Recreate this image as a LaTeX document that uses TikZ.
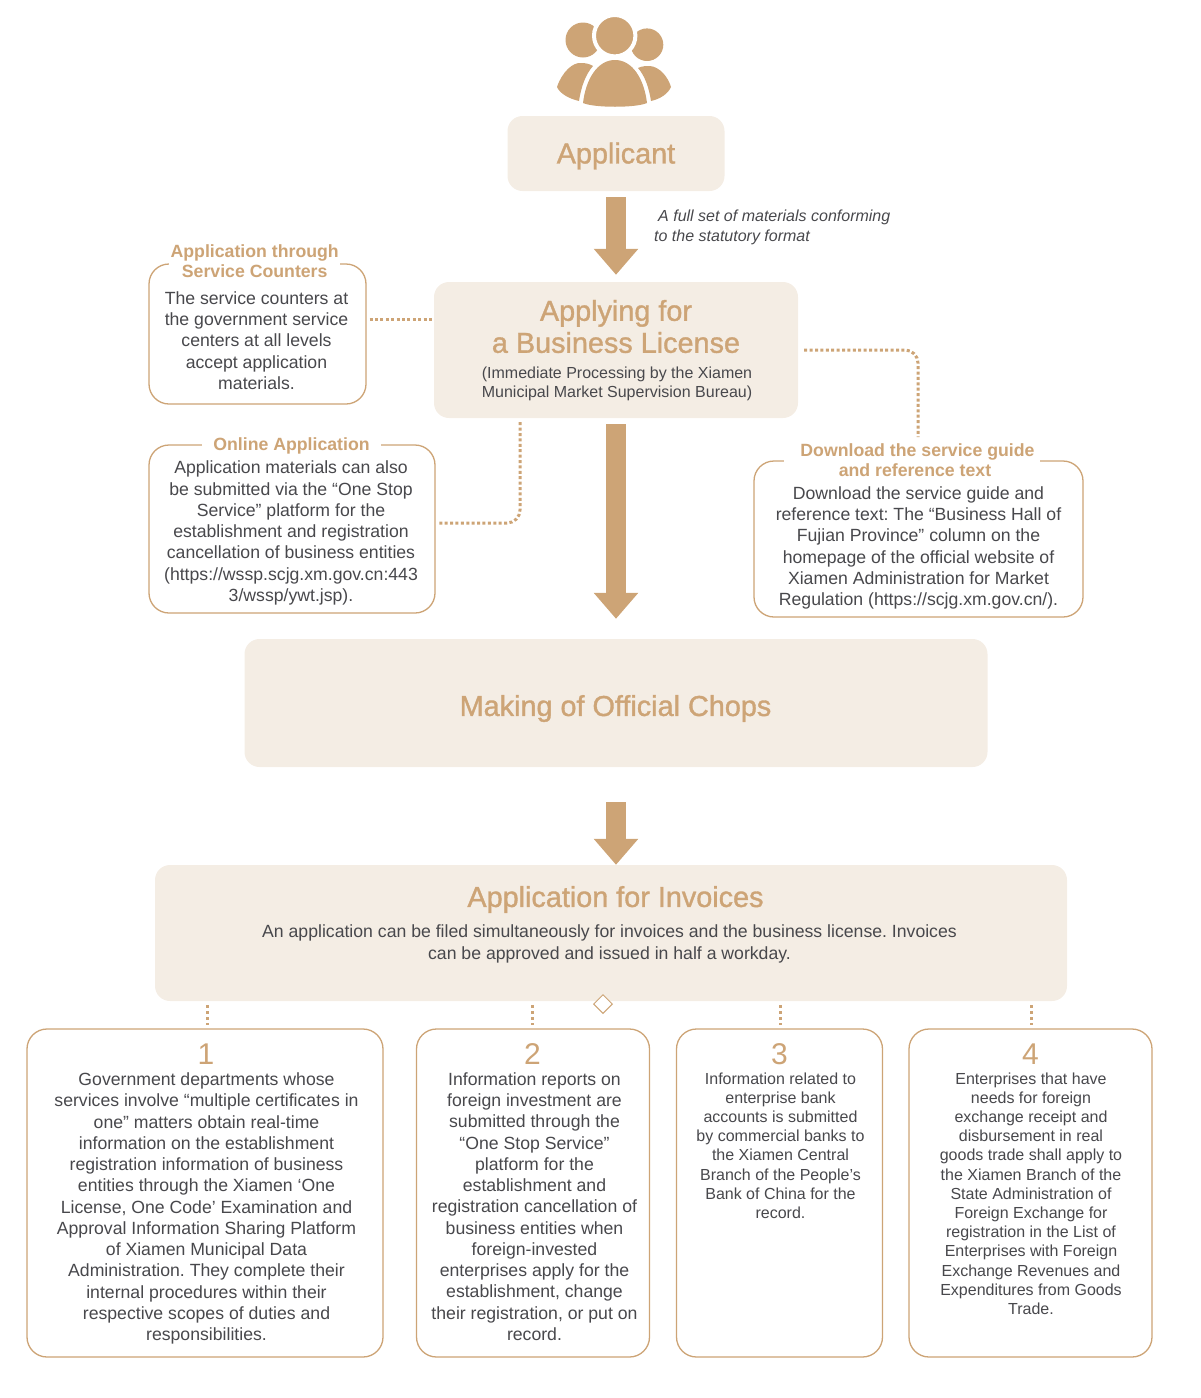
\documentclass[tikz,border=0pt]{standalone}
\usepackage{fontspec}
\setmainfont{Liberation Sans}
\newfontfamily\titlefont[FakeBold=1.2]{Liberation Sans}
\usetikzlibrary{shapes.geometric, arrows.meta, calc}
\definecolor{BoxTan}{RGB}{205, 164, 118}
\definecolor{BoxSoft}{RGB}{244, 237, 228}
\definecolor{BodyGray}{RGB}{72, 72, 76}
\frenchspacing
\begin{document}
\begin{tikzpicture}[
    x=1pt, y=-1pt,
    softbox/.style={fill=BoxSoft, rounded corners=15pt, inner sep=0pt},
    linebox/.style={draw=BoxTan, line width=1.3pt, fill=white, rounded corners=20pt, inner sep=0pt},
    bigtitle/.style={font=\titlefont\fontsize{28.8}{32}\selectfont, text=BoxTan, align=center, inner sep=0pt},
    boxtitle/.style={font=\bfseries\fontsize{17.7}{20}\selectfont, text=BoxTan, fill=white, align=center, inner ysep=0pt, inner xsep=0pt},
    bodytext/.style={font=\fontsize{17.65}{21.25}\selectfont, text=BodyGray, align=center, inner sep=0pt},
    smalltext/.style={font=\fontsize{16}{19.2}\selectfont, text=BodyGray, align=center, inner sep=0pt},
    numtext/.style={font=\fontsize{30}{32}\selectfont, text=BoxTan, inner sep=0pt},
    flowarrow/.style={draw=BoxTan, line width=20pt, -{Triangle[length=26pt, width=43pt]}, shorten <=6pt},
    dotline/.style={draw=BoxTan, line width=3pt, dash pattern=on 3pt off 2.4pt}
  ]
    \useasboundingbox (0,0) rectangle (1200,1398);

    % People icon
    \fill[BoxTan] (583,40) circle (17.5);
    \fill[BoxTan] (647,44.7) circle (16.3);
    \filldraw[BoxTan, draw=white, line width=4pt] (614.7,35.7) circle (20.7);
    \fill[BoxTan] (557,87) .. controls (562,72) and (573,62) .. (581,63) .. controls (586,63) and (590,64) .. (593,66)
      .. controls (585,75) and (581,88) .. (579,101) .. controls (570,99) and (560,94) .. (557,87) -- cycle;
    \fill[BoxTan] (583,103) .. controls (586,78) and (598,60) .. (615,60) .. controls (632,60) and (644,78) .. (647,103)
      .. controls (636,108) and (594,108) .. (583,103) -- cycle;
    \fill[BoxTan] (638,68) .. controls (642,66) and (646,66) .. (650,66) .. controls (660,67) and (668,77) .. (671,87)
      .. controls (668,94) and (660,99) .. (651,101) .. controls (649,88) and (645,76) .. (638,68) -- cycle;

    % Main boxes
    \node[softbox, minimum width=217pt, minimum height=75pt] (applicant) at (616,153.5) {};
    \node[bigtitle] (applicanttxt) at (616,156) {Applicant};

    \node[softbox, minimum width=364pt, minimum height=136pt] (license) at (616,350) {};
    \node[bigtitle] (licensetxt) at (616,326.5) {Applying for\\a Business License};
    \node[smalltext] (licensesub) at (617,384) {(Immediate Processing by the Xiamen\\Municipal Market Supervision Bureau)};

    \node[softbox, minimum width=743pt, minimum height=128pt] (chops) at (616,703) {};
    \node[bigtitle] (chopstxt) at (615.5,708.5) {Making of Official Chops};

    \node[softbox, minimum width=912pt, minimum height=136pt] (invoices) at (611,933) {};
    \node[bigtitle] (invoicestxt) at (615.5,899.5) {Application for Invoices};
    \node[bodytext, font=\fontsize{17.65}{22}\selectfont] (invoicesub) at (609.5,944) {An application can be filed simultaneously for invoices and the business license. Invoices\\can be approved and issued in half a workday.};
    \node[diamond, draw=BoxTan, fill=white, line width=1pt, minimum width=19pt, minimum height=19pt, inner sep=0pt] (marker) at (603,1004) {};

    % Note on first arrow
    \node[smalltext, font=\itshape\fontsize{16}{19.5}\selectfont, align=left, anchor=west] (notetxt) at (654,227.5) {\hspace*{4pt}A full set of materials conforming\\to the statutory format};

    % Side boxes
    \node[linebox, minimum width=217pt, minimum height=140pt] (counters) at (257.5,334) {};
    \node[boxtitle, inner xsep=1.5pt] (counterstitle) at (254.7,261) {Application through\\Service Counters};
    \node[bodytext] (counterstxt) at (256.5,340.5) {The service counters at\\the government service\\centers at all levels\\accept application\\materials.};

    \node[linebox, minimum width=286pt, minimum height=168pt] (online) at (292,529) {};
    \node[boxtitle, inner xsep=11.5pt] (onlinetitle) at (291.5,446) {Online Application};
    \node[bodytext] (onlinetxt) at (291,533) {Application materials can also\\be submitted via the “One Stop\\Service” platform for the\\establishment and registration\\cancellation of business entities\\(https://wssp.scjg.xm.gov.cn:443\\3/wssp/ywt.jsp).};

    \node[linebox, minimum width=329pt, minimum height=156pt] (download) at (918.5,539) {};
    \node[boxtitle, minimum width=256pt] (downloadtitle) at (912,460) {\hspace*{11pt}Download the service guide\\\hspace*{6pt}and reference text};
    \node[bodytext] (downloadtxt) at (918.5,548) {Download the service guide and\\reference text: The “Business Hall of\\Fujian Province” column on the\\homepage of the official website of\\Xiamen Administration for Market\\Regulation (https://scjg.xm.gov.cn/).};

    % Bottom boxes
    \node[linebox, minimum width=356pt, minimum height=328pt] (boxone) at (205,1193) {};
    \node[numtext] (numone) at (206,1054) {1};
    \node[bodytext] (txtone) at (206.5,1208.5) {Government departments whose\\services involve “multiple certificates in\\one” matters obtain real-time\\information on the establishment\\registration information of business\\entities through the Xiamen ‘One\\License, One Code’ Examination and\\Approval Information Sharing Platform\\of Xiamen Municipal Data\\Administration. They complete their\\internal procedures within their\\respective scopes of duties and\\responsibilities.};

    \node[linebox, minimum width=233pt, minimum height=328pt] (boxtwo) at (533,1193) {};
    \node[numtext] (numtwo) at (532.5,1054) {2};
    \node[bodytext] (txttwo) at (534.5,1206.5) {Information reports on\\foreign investment are\\submitted through the\\“One Stop Service”\\platform for the\\establishment and\\registration cancellation of\\business entities when\\foreign-invested\\enterprises apply for the\\establishment, change\\their registration, or put on\\record.};

    \node[linebox, minimum width=206pt, minimum height=328pt] (boxthree) at (779.5,1193) {};
    \node[numtext] (numthree) at (779.5,1054) {3};
    \node[smalltext] (txtthree) at (780.5,1145.5) {Information related to\\enterprise bank\\accounts is submitted\\by commercial banks to\\the Xiamen Central\\Branch of the People’s\\Bank of China for the\\record.};

    \node[linebox, minimum width=243pt, minimum height=328pt] (boxfour) at (1030.5,1193) {};
    \node[numtext] (numfour) at (1030.5,1054) {4};
    \node[smalltext] (txtfour) at (1031,1193.5) {Enterprises that have\\needs for foreign\\exchange receipt and\\disbursement in real\\goods trade shall apply to\\the Xiamen Branch of the\\State Administration of\\Foreign Exchange for\\registration in the List of\\Enterprises with Foreign\\Exchange Revenues and\\Expenditures from Goods\\Trade.};

    % Flow arrows
    \draw[flowarrow, shorten >=7pt] (applicant.south) -- (license.north);
    \draw[flowarrow, shorten >=20pt] (license.south) -- (chops.north);
    \draw[flowarrow, shorten <=35pt] (chops.south) -- (chops.south |- invoices.north);

    % Dotted links
    \coordinate (counterlink) at (0,319);
    \coordinate (onlinelink) at (520,523);
    \coordinate (downloadlink) at (918,437);
    \draw[dotline, shorten <=3pt, shorten >=2pt] (counterlink -| counters.east) -- (counterlink -| license.west);
    \draw[dotline, rounded corners=13pt, shorten <=4pt, shorten >=2pt] (onlinelink |- license.south) -- (onlinelink) -- (onlinelink -| online.east);
    \draw[dotline, rounded corners=13pt, shorten <=6pt] (license.east) -| (downloadlink);
    \foreach \boxname/\stubx in {boxone/207, boxtwo/532, boxthree/780, boxfour/1031}
      \draw[dotline, dash pattern=on 3pt off 3pt, shorten <=4pt, shorten >=3pt] (\stubx,0 |- invoices.south) -- (\stubx,0 |- \boxname.north);
\end{tikzpicture}
\end{document}
